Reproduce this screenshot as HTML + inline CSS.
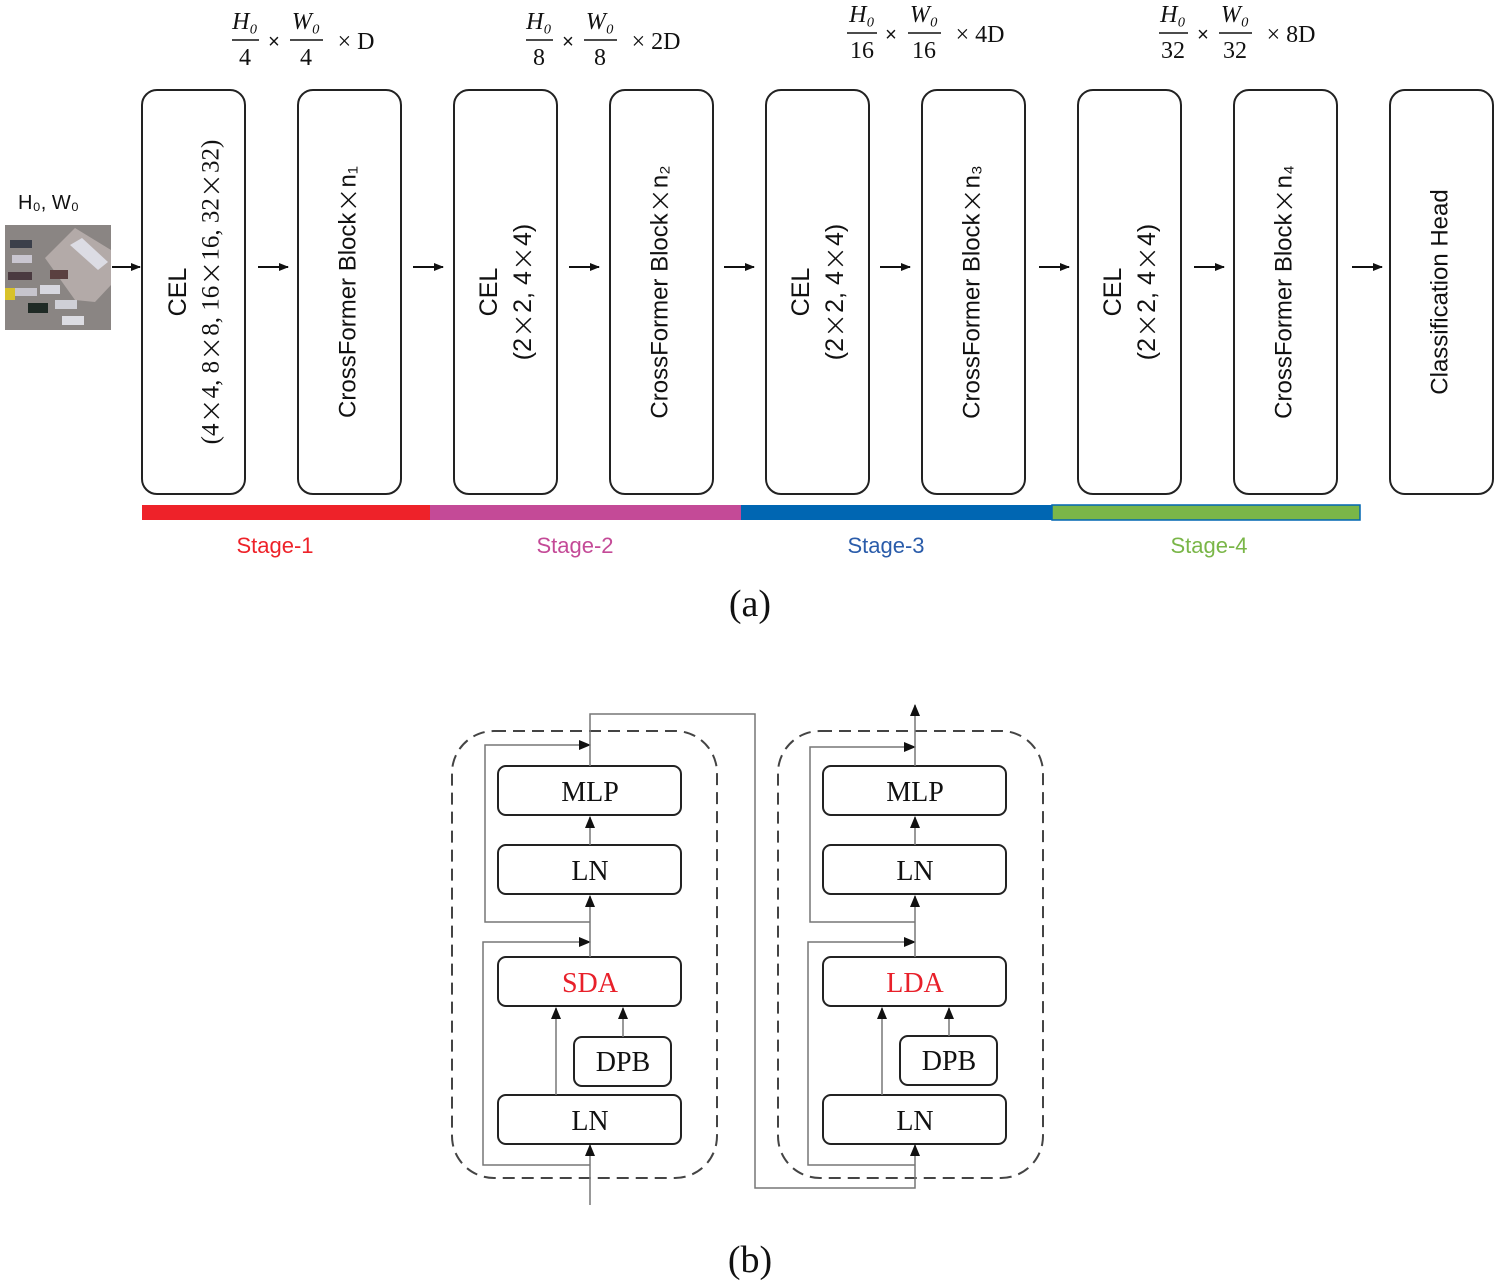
<!DOCTYPE html>
<html><head><meta charset="utf-8"><style>
html,body{margin:0;padding:0;background:#fff;width:1500px;height:1285px;overflow:hidden}
svg{display:block}
.sans{font-family:"Liberation Sans",sans-serif}
.serif{font-family:"Liberation Serif",serif}
.x{font-family:"DejaVu Sans",sans-serif;font-weight:300}
</style></head><body>
<svg width="1500" height="1285" viewBox="0 0 1500 1285" xmlns="http://www.w3.org/2000/svg">
<defs>
<marker id="ah" markerWidth="10" markerHeight="8" refX="9" refY="4" orient="auto" markerUnits="userSpaceOnUse">
<path d="M0,0 L10,4 L0,8 z" fill="#111"/></marker>
<marker id="ab" markerWidth="12" markerHeight="10" refX="11" refY="5" orient="auto" markerUnits="userSpaceOnUse">
<path d="M0,0 L12,5 L0,10 z" fill="#111"/></marker>
</defs>

<!-- formulas -->
<g class="serif" font-size="24" fill="#111" text-anchor="middle">
  <g font-style="italic"><text x="245" y="29">H₀</text><text x="306" y="29">W₀</text></g>
  <line x1="232" y1="40" x2="259" y2="40" stroke="#111" stroke-width="1.5"/><line x1="290" y1="40" x2="323" y2="40" stroke="#111" stroke-width="1.5"/>
  <text x="245" y="65">4</text><text x="306" y="65">4</text>
  <text x="274" y="48" class="sans" font-size="20">×</text><text x="356" y="49" text-anchor="middle">× D</text>

  <g font-style="italic"><text x="539" y="29">H₀</text><text x="600" y="29">W₀</text></g>
  <line x1="526" y1="40" x2="553" y2="40" stroke="#111" stroke-width="1.5"/><line x1="584" y1="40" x2="617" y2="40" stroke="#111" stroke-width="1.5"/>
  <text x="539" y="65">8</text><text x="600" y="65">8</text>
  <text x="568" y="48" class="sans" font-size="20">×</text><text x="656" y="49">× 2D</text>

  <g font-style="italic"><text x="862" y="22">H₀</text><text x="924" y="22">W₀</text></g>
  <line x1="847" y1="33" x2="877" y2="33" stroke="#111" stroke-width="1.5"/><line x1="908" y1="33" x2="941" y2="33" stroke="#111" stroke-width="1.5"/>
  <text x="862" y="58">16</text><text x="924" y="58">16</text>
  <text x="891" y="41" class="sans" font-size="20">×</text><text x="980" y="42">× 4D</text>

  <g font-style="italic"><text x="1173" y="22">H₀</text><text x="1235" y="22">W₀</text></g>
  <line x1="1159" y1="33" x2="1188" y2="33" stroke="#111" stroke-width="1.5"/><line x1="1219" y1="33" x2="1252" y2="33" stroke="#111" stroke-width="1.5"/>
  <text x="1173" y="58">32</text><text x="1235" y="58">32</text>
  <text x="1203" y="41" class="sans" font-size="20">×</text><text x="1291" y="42">× 8D</text>
</g>

<!-- input image -->
<text x="18" y="209" class="sans" font-size="20" fill="#111">H₀, W₀</text>
<g>
<rect x="5" y="225" width="106" height="105" fill="#8a8583"/>
<polygon points="45,258 75,228 111,250 111,285 95,302 75,300" fill="#b3aaa8"/>
<polygon points="70,245 82,238 108,262 98,270" fill="#dcdce4"/>
<rect x="10" y="240" width="22" height="8" fill="#3b3f4a"/><rect x="12" y="255" width="20" height="8" fill="#c9c6d0"/>
<rect x="8" y="272" width="24" height="8" fill="#4a3a40"/><rect x="15" y="288" width="22" height="8" fill="#c6c4cc"/>
<rect x="5" y="288" width="10" height="12" fill="#d8c22a"/><rect x="28" y="303" width="20" height="10" fill="#1f2a25"/>
<rect x="40" y="285" width="20" height="9" fill="#d7d7df"/><rect x="55" y="300" width="22" height="9" fill="#cfcfd6"/>
<rect x="50" y="270" width="18" height="9" fill="#5a4040"/><rect x="62" y="316" width="22" height="9" fill="#dcdce2"/>
</g>

<!-- boxes -->
<g fill="none" stroke="#222" stroke-width="2">
<rect x="142" y="90" width="103" height="404" rx="15"/>
<rect x="298" y="90" width="103" height="404" rx="15"/>
<rect x="454" y="90" width="103" height="404" rx="15"/>
<rect x="610" y="90" width="103" height="404" rx="15"/>
<rect x="766" y="90" width="103" height="404" rx="15"/>
<rect x="922" y="90" width="103" height="404" rx="15"/>
<rect x="1078" y="90" width="103" height="404" rx="15"/>
<rect x="1234" y="90" width="103" height="404" rx="15"/>
<rect x="1390" y="90" width="103" height="404" rx="15"/>
</g>
<!-- arrows -->
<g stroke="#111" stroke-width="2" marker-end="url(#ah)">
<line x1="112" y1="267" x2="140" y2="267"/>
<line x1="258" y1="267" x2="288" y2="267"/>
<line x1="413" y1="267" x2="443" y2="267"/>
<line x1="569" y1="267" x2="599" y2="267"/>
<line x1="724" y1="267" x2="754" y2="267"/>
<line x1="880" y1="267" x2="910" y2="267"/>
<line x1="1039" y1="267" x2="1069" y2="267"/>
<line x1="1194" y1="267" x2="1224" y2="267"/>
<line x1="1352" y1="267" x2="1382" y2="267"/>
</g>

<!-- rotated labels -->
<g class="sans" fill="#111" text-anchor="middle" dominant-baseline="central">
<text transform="translate(178,292) rotate(-90)" font-size="25">CEL</text>
<text transform="translate(211,292) rotate(-90)" font-size="25" class="serif">(4<tspan class="x" font-size="30">×</tspan>4, 8<tspan class="x" font-size="30">×</tspan>8, 16<tspan class="x" font-size="30">×</tspan>16, 32<tspan class="x" font-size="30">×</tspan>32)</text>
<text transform="translate(348,292) rotate(-90)" font-size="24">CrossFormer Block<tspan class="x" font-size="30">×</tspan>n₁</text>
<text transform="translate(489,292) rotate(-90)" font-size="25">CEL</text>
<text transform="translate(523,292) rotate(-90)" font-size="25">(2<tspan class="x" font-size="30">×</tspan>2, 4<tspan class="x" font-size="30">×</tspan>4)</text>
<text transform="translate(660,292) rotate(-90)" font-size="24">CrossFormer Block<tspan class="x" font-size="30">×</tspan>n₂</text>
<text transform="translate(801,292) rotate(-90)" font-size="25">CEL</text>
<text transform="translate(835,292) rotate(-90)" font-size="25">(2<tspan class="x" font-size="30">×</tspan>2, 4<tspan class="x" font-size="30">×</tspan>4)</text>
<text transform="translate(972,292) rotate(-90)" font-size="24">CrossFormer Block<tspan class="x" font-size="30">×</tspan>n₃</text>
<text transform="translate(1113,292) rotate(-90)" font-size="25">CEL</text>
<text transform="translate(1147,292) rotate(-90)" font-size="25">(2<tspan class="x" font-size="30">×</tspan>2, 4<tspan class="x" font-size="30">×</tspan>4)</text>
<text transform="translate(1284,292) rotate(-90)" font-size="24">CrossFormer Block<tspan class="x" font-size="30">×</tspan>n₄</text>
<text transform="translate(1440,292) rotate(-90)" font-size="24">Classification Head</text>
</g>

<!-- stage bar -->
<rect x="142" y="505" width="288" height="15" fill="#ee2229"/>
<rect x="430" y="505" width="311" height="15" fill="#c44a97"/>
<rect x="741" y="505" width="311" height="15" fill="#0066b2"/>
<rect x="1052" y="505" width="308" height="15" fill="#7ab648" stroke="#0066b2" stroke-width="1.5"/>
<g class="sans" font-size="22" text-anchor="middle">
<text x="275" y="553" fill="#ee2229">Stage-1</text>
<text x="575" y="553" fill="#c44a97">Stage-2</text>
<text x="886" y="553" fill="#2a5caa">Stage-3</text>
<text x="1209" y="553" fill="#7ab648">Stage-4</text>
</g>
<text x="750" y="616" class="serif" font-size="38" text-anchor="middle" fill="#111">(a)</text>

<!-- part b -->
<g fill="none" stroke="#444" stroke-width="2" stroke-dasharray="12,7">
<rect x="452" y="731" width="265" height="447" rx="42"/>
<rect x="778" y="731" width="265" height="447" rx="42"/>
</g>
<g fill="#fff" stroke="#222" stroke-width="2">
<rect x="498" y="766" width="183" height="49" rx="8"/>
<rect x="498" y="845" width="183" height="49" rx="8"/>
<rect x="498" y="957" width="183" height="49" rx="8"/>
<rect x="574" y="1037" width="97" height="49" rx="8"/>
<rect x="498" y="1095" width="183" height="49" rx="8"/>
<rect x="823" y="766" width="183" height="49" rx="8"/>
<rect x="823" y="845" width="183" height="49" rx="8"/>
<rect x="823" y="957" width="183" height="49" rx="8"/>
<rect x="900" y="1036" width="97" height="49" rx="8"/>
<rect x="823" y="1095" width="183" height="49" rx="8"/>
</g>
<g class="serif" font-size="28" text-anchor="middle" fill="#111">
<text x="590" y="801">MLP</text><text x="590" y="880">LN</text><text x="590" y="992" fill="#e8202a">SDA</text>
<text x="623" y="1071">DPB</text><text x="590" y="1130">LN</text>
<text x="915" y="801">MLP</text><text x="915" y="880">LN</text><text x="915" y="992" fill="#e8202a">LDA</text>
<text x="949" y="1070">DPB</text><text x="915" y="1130">LN</text>
</g>
<g fill="none" stroke="#777" stroke-width="1.5">
<line x1="590" y1="1205" x2="590" y2="1145" marker-end="url(#ab)"/>
<polyline points="590,1165 483,1165 483,942 590,942" marker-end="url(#ab)"/>
<line x1="590" y1="957" x2="590" y2="896" marker-end="url(#ab)"/>
<polyline points="590,922 485,922 485,745 590,745" marker-end="url(#ab)"/>
<line x1="590" y1="845" x2="590" y2="817" marker-end="url(#ab)"/>
<line x1="556" y1="1095" x2="556" y2="1008" marker-end="url(#ab)"/>
<line x1="623" y1="1037" x2="623" y2="1008" marker-end="url(#ab)"/>
<polyline points="590,766 590,714 755,714 755,1188 915,1188 915,1145" marker-end="url(#ab)"/>
<polyline points="915,1165 808,1165 808,942 915,942" marker-end="url(#ab)"/>
<line x1="915" y1="957" x2="915" y2="896" marker-end="url(#ab)"/>
<polyline points="915,922 810,922 810,747 915,747" marker-end="url(#ab)"/>
<line x1="915" y1="845" x2="915" y2="817" marker-end="url(#ab)"/>
<line x1="882" y1="1095" x2="882" y2="1008" marker-end="url(#ab)"/>
<line x1="949" y1="1036" x2="949" y2="1008" marker-end="url(#ab)"/>
<line x1="915" y1="766" x2="915" y2="705" marker-end="url(#ab)"/>
</g>
<text x="750" y="1272" class="serif" font-size="38" text-anchor="middle" fill="#111">(b)</text>
</svg>
</body></html>
